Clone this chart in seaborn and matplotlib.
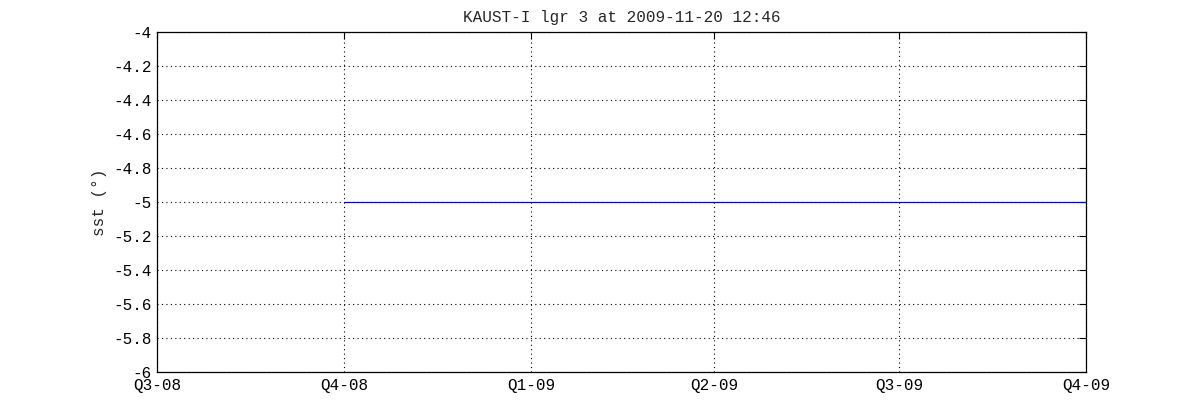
import pandas as pd
import matplotlib.pyplot as plt
import matplotlib.dates as mdates
import seaborn as sns

# data
quarter_dates = ["2008-07-01", "2008-10-01", "2009-01-01", "2009-04-01", "2009-07-01", "2009-10-01"]
quarter_labels = ["Q3-08", "Q4-08", "Q1-09", "Q2-09", "Q3-09", "Q4-09"]
obs_dates = ["2008-10-01", "2009-01-01", "2009-04-01", "2009-07-01", "2009-10-01"]
sst_values = [-5, -5, -5, -5, -5]
y_ticks = [-6, -5.8, -5.6, -5.4, -5.2, -5, -4.8, -4.6, -4.4, -4.2, -4]

df = pd.DataFrame({"time": pd.to_datetime(obs_dates), "sst": sst_values})

sns.set_style("white")
plt.rcParams['font.family'] = ['Liberation Mono', 'DejaVu Sans Mono']
plt.rcParams['font.size'] = 11.5

fig = plt.figure(figsize=(12, 4.2), dpi=100)
ax = fig.add_axes([0.1308, 0.1143, 0.905 - 0.1308, 0.9238 - 0.1143])

sns.lineplot(data=df, x="time", y="sst", color="#0000ff", linewidth=0.9, ax=ax)

qd = pd.to_datetime(quarter_dates)
ax.set_xlim(qd[0], qd[-1])
ax.set_xticks(qd)
ax.set_xticklabels(quarter_labels)
ax.set_ylim(-6, -4)
ax.set_yticks(y_ticks)
ax.set_yticklabels(["%g" % v for v in y_ticks])

ax.grid(True, color="black", linestyle=(0, (1, 3)), linewidth=0.8)
ax.tick_params(direction="in", length=5, width=0.8, top=True, right=True,
               colors="black", labelsize=11.5, pad=4)
for s in ax.spines.values():
    s.set_visible(True)
    s.set_color("black")
    s.set_linewidth(0.9)

ax.set_title("KAUST-I lgr 3 at 2009-11-20 12:46", fontsize=11.5, pad=7)
ax.set_xlabel("")
ax.set_ylabel("sst (°)", fontsize=11.5, labelpad=4)

fig.savefig("out.png", dpi=100)
